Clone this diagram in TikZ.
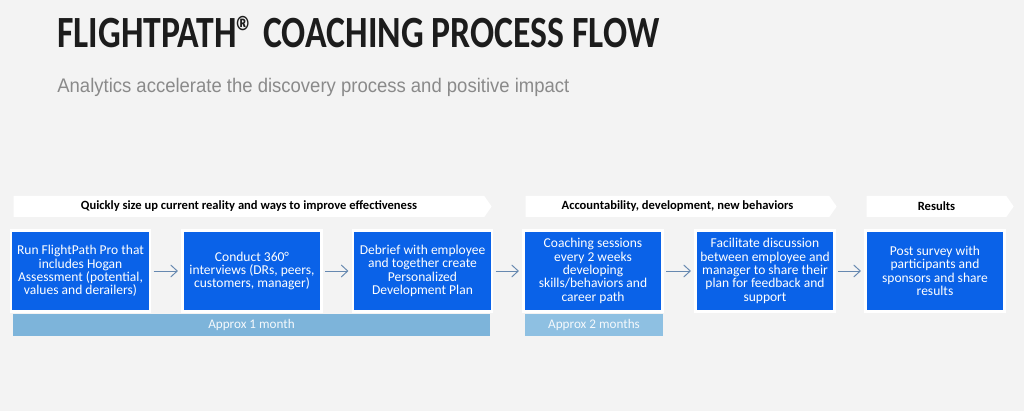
\documentclass[tikz,border=0pt]{standalone}
\usepackage{fontspec}
\setmainfont{Carlito}
\newfontfamily\titlefont[FakeStretch=0.8]{Carlito}
\newfontfamily\subfont[FakeStretch=0.94]{Liberation Sans}
\usepackage{tikz}
\usetikzlibrary{positioning,arrows.meta,shapes.symbols,shadows}
\definecolor{bgcol}{HTML}{F3F3F3}
\definecolor{stepcol}{HTML}{0A62E8}
\definecolor{linkcol}{HTML}{6688B0}
\definecolor{barcol}{HTML}{7DB4DA}
\definecolor{barlite}{HTML}{8EC0E2}
\definecolor{titlecol}{HTML}{1C1C1C}
\definecolor{subcol}{HTML}{8A8A8A}

\begin{document}
\begin{tikzpicture}[x=0.02cm, y=-0.02cm,
  phase/.style={signal, signal to=east, signal pointer angle=110, fill=white,
    draw=none, inner sep=0pt, minimum height=0.42cm, font=\fontsize{7.15}{7.5}\selectfont\bfseries,
    text=black},
  stepbox/.style={draw=white, line width=1.2pt, fill=stepcol, text=white,
    minimum width=2.78cm, minimum height=1.62cm, inner sep=1pt, align=center,
    font=\fontsize{7.7}{7.6}\selectfont,
    drop shadow={opacity=0.22, shadow xshift=0.8pt, shadow yshift=-0.8pt}},
  span/.style={fill=#1, draw=none, minimum height=0.44cm, inner sep=0pt,
    text=white!92!barcol, font=\fontsize{7.5}{7.5}\selectfont},
  link/.style={-{Straight Barb[length=1.3mm, width=2.4mm]}, line width=0.55pt, linkcol,
    shorten <=1.5pt, shorten >=2pt}]
\fill[bgcol] (0,0) rectangle (1024,411);
\useasboundingbox (0,0) rectangle (1024,411);
% heading
\node[anchor=base west, inner sep=0pt, text=titlecol, font=\titlefont\fontsize{25.4}{26}\selectfont\bfseries]
  (title) at (57,48) {FLIGHTPATH® COACHING PROCESS FLOW};
\node[anchor=base west, inner sep=0pt, text=subcol, font=\subfont\fontsize{11.2}{11.2}\selectfont]
  (subtitle) at (57,93) {Analytics accelerate the discovery process and positive impact};
% phases
\node[phase, minimum width=9.56cm] (ph1) at (249,206.5)
  {Quickly size up current reality and ways to improve effectiveness};
\node[phase, minimum width=6.22cm] (ph2) at (677.5,206.5)
  {Accountability, development, new behaviors};
\node[phase, minimum width=2.94cm] (ph3) at (936.5,206.5) {Results};
% durations
\node[span=barcol, minimum width=9.54cm] (dur1) at (251.5,325) {Approx 1 month};
\node[span=barlite, minimum width=2.76cm] (dur2) at (594,325) {Approx 2 months};
% steps
\node[stepbox] (s1) at (80.5,271)
  {Run FlightPath Pro that\\includes Hogan\\Assessment (potential,\\values and derailers)};
\node[stepbox] (s2) at (252,271)
  {Conduct 360°\\interviews (DRs, peers,\\customers, manager)};
\node[stepbox] (s3) at (422.5,271)
  {Debrief with employee\\and together create\\Personalized\\Development Plan};
\node[stepbox] (s4) at (593,271)
  {Coaching sessions\\every 2 weeks\\developing\\skills/behaviors and\\career path};
\node[stepbox] (s5) at (765,271)
  {Facilitate discussion\\between employee and\\manager to share their\\plan for feedback and\\support};
\node[stepbox] (s6) at (935,271)
  {Post survey with\\participants and\\sponsors and share\\results};
% links
\draw[link] (s1) -- (s2);
\draw[link] (s2) -- (s3);
\draw[link] (s3) -- (s4);
\draw[link] (s4) -- (s5);
\draw[link] (s5) -- (s6);
\end{tikzpicture}
\end{document}
